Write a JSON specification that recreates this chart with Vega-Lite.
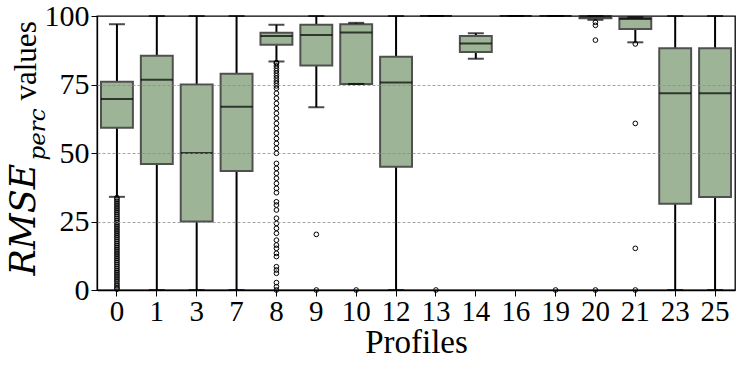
{
  "$schema": "https://vega.github.io/schema/vega-lite/v6.json",
  "width": 638,
  "height": 274,
  "autosize": {"type": "none"},
  "padding": {"left": 97, "top": 16, "right": 6, "bottom": 78},
  "background": "white",
  "config": {
    "view": {"stroke": "#000000", "strokeWidth": 1.3},
    "axis": {"labelColor": "#000", "titleColor": "#000", "tickColor": "#000", "domainColor": "#000", "titleFontWeight": "normal"}
  },
  "datasets": {
    "stats": [
      {"p": "0", "lo": 34, "q1": 59.2, "med": 69.7, "q3": 76, "hi": 97},
      {"p": "1", "lo": 0, "q1": 46, "med": 76.7, "q3": 85.5, "hi": 100},
      {"p": "3", "lo": 0, "q1": 25, "med": 50, "q3": 75, "hi": 100},
      {"p": "7", "lo": 0, "q1": 43.4, "med": 66.9, "q3": 78.9, "hi": 100},
      {"p": "8", "lo": 83.4, "q1": 89.5, "med": 92.7, "q3": 93.9, "hi": 96.8},
      {"p": "9", "lo": 66.7, "q1": 81.9, "med": 93.1, "q3": 96.8, "hi": 100},
      {"p": "10", "lo": 75.2, "q1": 75.2, "med": 94, "q3": 97, "hi": 97.5},
      {"p": "12", "lo": 0, "q1": 45, "med": 75.7, "q3": 85.1, "hi": 100},
      {"p": "13", "lo": 100, "q1": 100, "med": 100, "q3": 100, "hi": 100},
      {"p": "14", "lo": 84.4, "q1": 86.9, "med": 90, "q3": 92.7, "hi": 93.7},
      {"p": "16", "lo": 100, "q1": 100, "med": 100, "q3": 100, "hi": 100},
      {"p": "19", "lo": 100, "q1": 100, "med": 100, "q3": 100, "hi": 100},
      {"p": "20", "lo": 98.6, "q1": 99.2, "med": 99.8, "q3": 100, "hi": 100},
      {"p": "21", "lo": 90.4, "q1": 95.3, "med": 98.9, "q3": 99.3, "hi": 99.6},
      {"p": "23", "lo": 0, "q1": 31.5, "med": 71.8, "q3": 88.2, "hi": 100},
      {"p": "25", "lo": 0, "q1": 33.9, "med": 71.8, "q3": 88.2, "hi": 100}
    ],
    "out": [
      {"p": "0", "v": 0.3}, {"p": "0", "v": 0.8}, {"p": "0", "v": 1.5}, {"p": "0", "v": 2.2}, {"p": "0", "v": 3}, {"p": "0", "v": 3.7}, {"p": "0", "v": 4.4}, {"p": "0", "v": 5.1}, {"p": "0", "v": 5.8}, {"p": "0", "v": 6.5},
      {"p": "0", "v": 7.2}, {"p": "0", "v": 7.9}, {"p": "0", "v": 8.6}, {"p": "0", "v": 9.3}, {"p": "0", "v": 10}, {"p": "0", "v": 10.7}, {"p": "0", "v": 11.4}, {"p": "0", "v": 12.1}, {"p": "0", "v": 12.8}, {"p": "0", "v": 13.5},
      {"p": "0", "v": 14.2}, {"p": "0", "v": 14.9}, {"p": "0", "v": 15.6}, {"p": "0", "v": 16.3}, {"p": "0", "v": 17}, {"p": "0", "v": 17.7}, {"p": "0", "v": 18.4}, {"p": "0", "v": 19.1}, {"p": "0", "v": 19.8}, {"p": "0", "v": 20.5},
      {"p": "0", "v": 21.2}, {"p": "0", "v": 21.9}, {"p": "0", "v": 22.6}, {"p": "0", "v": 23.3}, {"p": "0", "v": 24}, {"p": "0", "v": 24.7}, {"p": "0", "v": 25.4}, {"p": "0", "v": 26.1}, {"p": "0", "v": 26.8}, {"p": "0", "v": 27.5},
      {"p": "0", "v": 28.2}, {"p": "0", "v": 28.9}, {"p": "0", "v": 29.6}, {"p": "0", "v": 30.3}, {"p": "0", "v": 31}, {"p": "0", "v": 31.7}, {"p": "0", "v": 32.4}, {"p": "0", "v": 33.1}, {"p": "0", "v": 33.7},
      {"p": "8", "v": 0}, {"p": "8", "v": 1.2}, {"p": "8", "v": 2.7}, {"p": "8", "v": 6.1}, {"p": "8", "v": 7.3}, {"p": "8", "v": 8.5}, {"p": "8", "v": 12.2}, {"p": "8", "v": 13.4}, {"p": "8", "v": 15.2}, {"p": "8", "v": 16.4},
      {"p": "8", "v": 18.2}, {"p": "8", "v": 20.7}, {"p": "8", "v": 22.5}, {"p": "8", "v": 24.3}, {"p": "8", "v": 26.2}, {"p": "8", "v": 29.2}, {"p": "8", "v": 31}, {"p": "8", "v": 32.2}, {"p": "8", "v": 35.5}, {"p": "8", "v": 37.1},
      {"p": "8", "v": 38.9}, {"p": "8", "v": 40.8}, {"p": "8", "v": 42.6}, {"p": "8", "v": 44.4}, {"p": "8", "v": 46.2}, {"p": "8", "v": 49.9}, {"p": "8", "v": 51.7}, {"p": "8", "v": 53.5}, {"p": "8", "v": 55.3}, {"p": "8", "v": 57.2},
      {"p": "8", "v": 59}, {"p": "8", "v": 60.8}, {"p": "8", "v": 62.7}, {"p": "8", "v": 64.5}, {"p": "8", "v": 66.3}, {"p": "8", "v": 68.1}, {"p": "8", "v": 70}, {"p": "8", "v": 71.8}, {"p": "8", "v": 73.6}, {"p": "8", "v": 74.5},
      {"p": "8", "v": 75.4}, {"p": "8", "v": 76.3}, {"p": "8", "v": 77.3}, {"p": "8", "v": 78.2}, {"p": "8", "v": 79.1}, {"p": "8", "v": 80}, {"p": "8", "v": 80.9}, {"p": "8", "v": 81.8}, {"p": "8", "v": 82.7}, {"p": "8", "v": 83},
      {"p": "9", "v": 20.3}, {"p": "9", "v": 0},
      {"p": "10", "v": 0},
      {"p": "13", "v": 0},
      {"p": "19", "v": 0},
      {"p": "20", "v": 97.7}, {"p": "20", "v": 96.6}, {"p": "20", "v": 91.2}, {"p": "20", "v": 0},
      {"p": "21", "v": 89.8}, {"p": "21", "v": 60.8}, {"p": "21", "v": 15.2}, {"p": "21", "v": 0}
    ]
  },
  "layer": [
    {
      "data": {"name": "stats"},
      "mark": {"type": "rule", "color": "#000000", "strokeWidth": 2},
      "encoding": {
        "x": {"field": "p", "type": "nominal", "sort": ["0","1","3","7","8","9","10","12","13","14","16","19","20","21","23","25"],
          "scale": {"paddingInner": 0, "paddingOuter": 0},
          "axis": {"labelAngle": 0, "labelFont": "serif", "labelFontSize": 29, "labelPadding": 1, "tickSize": 6, "tickWidth": 1, "title": "Profiles", "titleFont": "serif", "titleFontSize": 33, "titlePadding": 0, "domainWidth": 1.3}},
        "y": {"field": "lo", "type": "quantitative", "scale": {"domain": [0, 100], "nice": false},
          "axis": {"orient": "left", "values": [0, 25, 50, 75, 100], "labelFont": "serif", "labelFontSize": 30, "labelPadding": 2, "tickSize": 6, "tickWidth": 1, "domainWidth": 1.3, "grid": false,
            "title": "RMSE", "titleFont": "DejaVu Serif", "titleFontStyle": "italic", "titleFontSize": 35, "titleAngle": -90, "titleAlign": "left", "titleBaseline": "alphabetic", "titleX": -63, "titleY": 259}},
        "y2": {"field": "hi"}
      }
    },
    {
      "data": {"name": "stats"},
      "mark": {"type": "bar", "fill": "#9db596", "stroke": "#505050", "strokeWidth": 2, "width": {"band": 0.8}},
      "encoding": {
        "x": {"field": "p", "type": "nominal", "sort": ["0","1","3","7","8","9","10","12","13","14","16","19","20","21","23","25"]},
        "y": {"field": "q1", "type": "quantitative",
          "axis": {"orient": "left", "labels": false, "ticks": false, "domain": false, "grid": false,
            "title": "perc", "titleFont": "DejaVu Serif", "titleFontStyle": "italic", "titleFontSize": 23, "titleAngle": -90, "titleAlign": "left", "titleBaseline": "alphabetic", "titleX": -53, "titleY": 144}},
        "y2": {"field": "q3"}
      }
    },
    {
      "data": {"name": "stats"},
      "mark": {"type": "tick", "color": "#000000", "thickness": 2, "size": 32},
      "encoding": {
        "x": {"field": "p", "type": "nominal", "sort": ["0","1","3","7","8","9","10","12","13","14","16","19","20","21","23","25"]},
        "y": {"field": "med", "type": "quantitative", "axis": null}
      }
    },
    {
      "data": {"name": "stats"},
      "mark": {"type": "tick", "color": "#000000", "thickness": 2, "size": 16},
      "encoding": {
        "x": {"field": "p", "type": "nominal", "sort": ["0","1","3","7","8","9","10","12","13","14","16","19","20","21","23","25"]},
        "y": {"field": "lo", "type": "quantitative", "axis": null}
      }
    },
    {
      "data": {"name": "stats"},
      "mark": {"type": "tick", "color": "#000000", "thickness": 2, "size": 16},
      "encoding": {
        "x": {"field": "p", "type": "nominal", "sort": ["0","1","3","7","8","9","10","12","13","14","16","19","20","21","23","25"]},
        "y": {"field": "hi", "type": "quantitative", "axis": null}
      }
    },
    {
      "data": {"name": "out"},
      "mark": {"type": "point", "shape": "circle", "filled": false, "stroke": "#000000", "strokeWidth": 1, "size": 22, "opacity": 1},
      "encoding": {
        "x": {"field": "p", "type": "nominal", "sort": ["0","1","3","7","8","9","10","12","13","14","16","19","20","21","23","25"]},
        "y": {"field": "v", "type": "quantitative",
          "axis": {"orient": "left", "values": [25, 50, 75], "labels": false, "ticks": false, "domain": false, "grid": true, "gridDash": [3, 2], "gridColor": "#8c8c8c", "gridWidth": 0.8, "zindex": 1,
            "title": "values", "titleFont": "serif", "titleFontSize": 31, "titleAngle": -90, "titleAlign": "left", "titleBaseline": "alphabetic", "titleX": -62, "titleY": 84}}
      }
    }
  ],
  "resolve": {"axis": {"y": "independent"}}
}
